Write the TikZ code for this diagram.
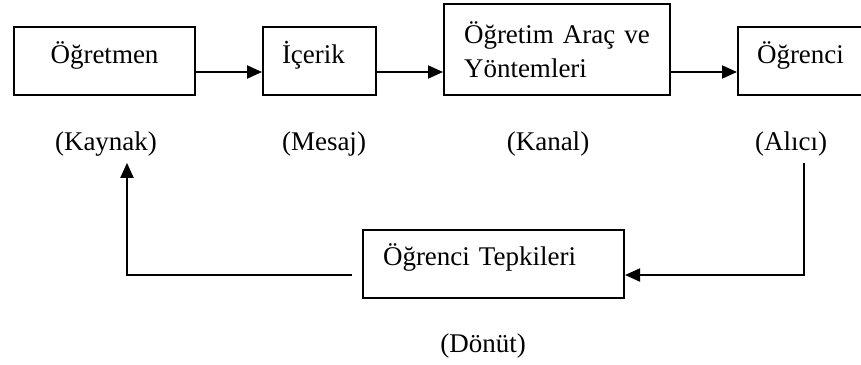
\documentclass[tikz,border=0pt]{standalone}
\usepackage{fontspec}
\setmainfont{Liberation Serif}
\usetikzlibrary{arrows.meta,positioning}

\begin{document}
\begin{tikzpicture}[x=1pt,y=-1pt,->,>={Triangle[length=15pt,width=13pt]},line width=2pt,
  font=\fontsize{27}{34}\selectfont,
  box/.style={draw=black,inner ysep=0pt,align=left},
  oneline/.style={text height=36pt,text depth=32pt},
  lbl/.style={inner sep=6pt,anchor=base}]
\useasboundingbox (0,0) rectangle (861,364);

%% Top row
\node (Teacher) [box,oneline,align=center,minimum width=181pt,inner xsep=0pt] at (104.5,61) {Öğretmen};
\node (Content) [box,oneline,right=66pt of Teacher,inner xsep=19pt,text width=75pt] {İçerik};
\node (Tools)   [box,right=66pt of Content.south east,anchor=south west,inner xsep=20pt,text width=186pt,minimum height=91pt]
                {Öğretim Araç ve\\Yöntemleri};
\node (Learner) [box,oneline,right=66pt of Tools.south east,anchor=south west,inner xsep=19pt,text width=96pt] {Öğrenci};

%% Roles
\node (Kaynak) [lbl] at (106,150) {(Kaynak)};
\node (Mesaj)  [lbl] at (324,150) {(Mesaj)};
\node (Kanal)  [lbl] at (548,150) {(Kanal)};
\node (Alici)  [lbl] at (791,150) {(Alıcı)};

%% Feedback
\node (Tepki) [box,text height=35pt,text depth=33pt,inner xsep=20pt,text width=221pt] at (493.5,264) {Öğrenci Tepkileri};
\node (Donut) [lbl] at (483,352) {(Dönüt)};

\coordinate (toprow) at (0,72);
\coordinate (backrow) at (0,275);
\draw (Teacher.east |- toprow) -- (Content.west |- toprow);
\draw (Content.east |- toprow) -- (Tools.west |- toprow);
\draw (Tools.east |- toprow) -- (Learner.west |- toprow);
\draw ([xshift=13pt]Alici.south) |- (Tepki.east |- backrow);
\draw ([xshift=-10pt]Tepki.west |- backrow) -| ([xshift=21pt]Kaynak.south);
\end{tikzpicture}
\end{document}
